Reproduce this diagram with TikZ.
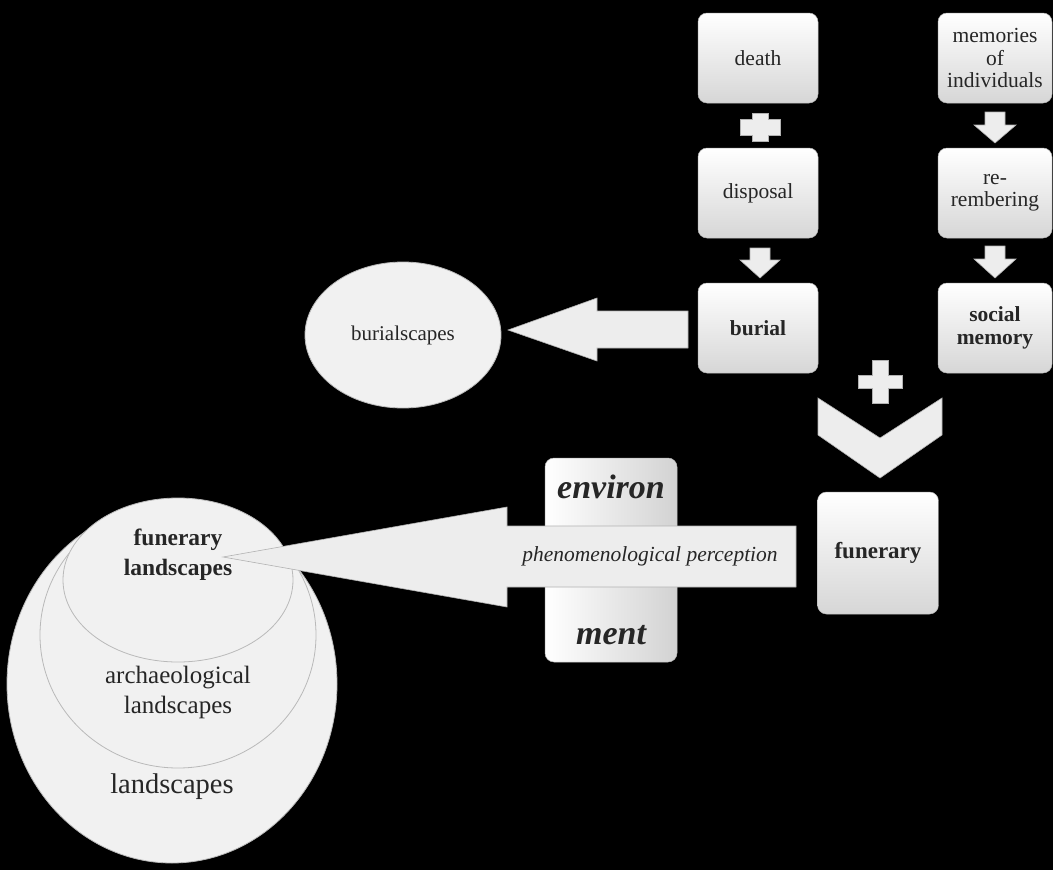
\documentclass[tikz,border=0pt]{standalone}
\usepackage{fontspec}
\setmainfont{Liberation Serif}
\usetikzlibrary{shapes.geometric}
\begin{document}
\begin{tikzpicture}[x=1pt,y=-1pt,
  box/.style={rectangle, rounded corners=9pt, top color=white, bottom color=gray!32,
    draw=gray!55, line width=0.5pt, align=center, inner sep=0pt, text=black!85,
    font=\rmfamily\fontsize{21.5}{22.5}\selectfont},
  oval/.style={ellipse, fill=gray!11, draw=gray!55, line width=0.8pt, inner sep=0pt},
  blk/.style={fill=gray!14, draw=gray!60, line width=0.6pt, line join=miter},
  lbl/.style={align=center, text=black!85, inner sep=0pt}]
\fill[black] (0,0) rectangle (1053,870);
\useasboundingbox (0,0) rectangle (1053,870);

% left column
\node[box, minimum width=120, minimum height=90] (death) at (758,58) {death};
\node[box, minimum width=120, minimum height=90] (disposal) at (758,193) {disposal};
\node[box, minimum width=120, minimum height=90, font=\rmfamily\fontsize{21.5}{22.5}\selectfont\bfseries] (burial) at (758,328) {burial};
% right column
\node[box, minimum width=114, minimum height=90] (memories) at (995,58) {memories\\of\\individuals};
\node[box, minimum width=114, minimum height=90] (rememb) at (995,193) {re-\\rembering};
\node[box, minimum width=114, minimum height=90, font=\rmfamily\fontsize{21.5}{23}\selectfont\bfseries] (social) at (995,328) {social\\memory};

% plus between death and disposal
\draw[blk] (752,113) -- (768,113) -- (768,119) -- (780,119) -- (780,135) -- (768,135) -- (768,141)
  -- (752,141) -- (752,135) -- (740,135) -- (740,119) -- (752,119) -- cycle;
% down arrows
\draw[blk] (750,248) -- (770,248) -- (770,260) -- (780,260) -- (760,278) -- (740,260) -- (750,260) -- cycle;
\draw[blk] (985,112) -- (1005,112) -- (1005,125) -- (1016,125) -- (995,143) -- (974,125) -- (985,125) -- cycle;
\draw[blk] (985,246) -- (1005,246) -- (1005,259) -- (1016,259) -- (995,278) -- (974,259) -- (985,259) -- cycle;

% burialscapes
\node[oval, minimum width=196, minimum height=146] (bscapes) at (403,335) {};
\node[lbl, font=\rmfamily\fontsize{21}{22.5}\selectfont] (bscapestxt) at (403,335) {burialscapes};
\draw[blk] (688,311) -- (597,311) -- (597,298) -- (508,330) -- (597,361) -- (597,348) -- (688,348) -- cycle;

% plus and chevron
\draw[blk] (872,360) -- (888,360) -- (888,375) -- (902,375) -- (902,388) -- (888,388) -- (888,403)
  -- (872,403) -- (872,388) -- (858,388) -- (858,375) -- (872,375) -- cycle;
\draw[blk] (818,398) -- (880,438) -- (942,398) -- (942,435) -- (880,478) -- (818,435) -- cycle;

% funerary
\node[box, minimum width=121, minimum height=122, font=\rmfamily\fontsize{23}{25}\selectfont\bfseries] (funerary) at (878,553) {funerary};

% landscapes ellipses
\node[oval, minimum width=330, minimum height=358] (land) at (172,684) {};
\node[oval, minimum width=276, minimum height=266] (arch) at (178,635) {};
\node[oval, minimum width=230, minimum height=164] (funland) at (178,580) {};
\node[lbl, font=\rmfamily\fontsize{23.5}{30}\selectfont\bfseries] (funlandtxt) at (178,555) {funerary\\landscapes};
\node[lbl, font=\rmfamily\fontsize{25}{30}\selectfont] (archtxt) at (178,692) {archaeological\\landscapes};
\node[lbl, font=\rmfamily\fontsize{28.5}{30}\selectfont] (landtxt) at (172,787) {landscapes};

% environment box
\node[rectangle, rounded corners=9pt, left color=white, right color=gray!35, draw=gray!55,
  line width=0.5pt, minimum width=132, minimum height=204, inner sep=0pt] (env) at (611,560) {};
\node[lbl, font=\rmfamily\fontsize{34}{36}\selectfont\bfseries\itshape] (envtop) at (611,487) {environ};
\node[lbl, font=\rmfamily\fontsize{34}{36}\selectfont\bfseries\itshape] (envbot) at (611,635) {ment};

% phenomenological perception arrow
\draw[blk] (796,526) -- (507,526) -- (507,507) -- (223,557) -- (507,607) -- (507,587) -- (796,587) -- cycle;
\node[lbl, font=\rmfamily\fontsize{21.5}{23}\selectfont\itshape] (phen) at (650,556) {phenomenological perception};
\end{tikzpicture}
\end{document}
